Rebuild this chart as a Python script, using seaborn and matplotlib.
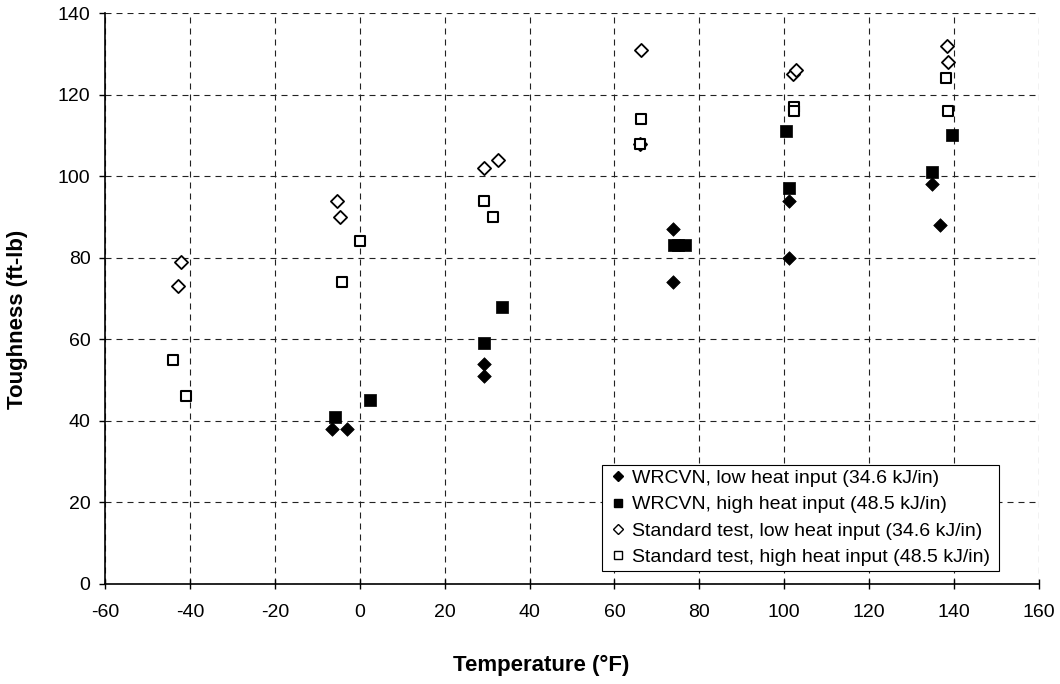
import matplotlib
matplotlib.use("Agg")
import matplotlib.pyplot as plt
import seaborn as sns
import pandas as pd

# ---- data ----
wr_low_x = [-6.6, -3, 29.3, 29.3, 73.9, 73.9, 101, 101, 134.9, 136.7]
wr_low_y = [38, 38, 54, 51, 87, 74, 94, 80, 98, 88]

wr_high_x = [-5.8, 2.4, 29.3, 33.6, 74, 75, 76.5, 100.5, 101, 134.9, 139.6]
wr_high_y = [41, 45, 59, 68, 83, 83, 83, 111, 97, 101, 110]

std_low_x = [-42, -42.9, -5.3, -4.6, 29.2, 32.6, 66.2, 66.1, 102, 102.7, 138.4, 138.5]
std_low_y = [79, 73, 94, 90, 102, 104, 131, 108, 125, 126, 132, 128]

std_high_x = [-44, -40.9, -4.1, 0, 29.3, 31.5, 66.3, 66.1, 102.3, 102.3, 138.1, 138.5]
std_high_y = [55, 46, 74, 84, 94, 90, 114, 108, 117, 116, 124, 116]

labels = [
    "WRCVN, low heat input (34.6 kJ/in)",
    "WRCVN, high heat input (48.5 kJ/in)",
    "Standard test, low heat input (34.6 kJ/in)",
    "Standard test, high heat input (48.5 kJ/in)",
]
x_ticks = [-60, -40, -20, 0, 20, 40, 60, 80, 100, 120, 140, 160]
y_ticks = [0, 20, 40, 60, 80, 100, 120, 140]

sns.set_theme(style="white")
plt.rcParams['font.family'] = ['Liberation Sans', 'DejaVu Sans']
plt.rcParams['text.color'] = 'black'
plt.rcParams['axes.labelcolor'] = 'black'
plt.rcParams['xtick.color'] = 'black'
plt.rcParams['ytick.color'] = 'black'

fig = plt.figure(figsize=(10.6, 6.84), dpi=100)
ax = fig.add_axes([105 / 1060, 1 - 584 / 684, (1039 - 105) / 1060, (584 - 13) / 684])

series = [
    (std_low_x, std_low_y, labels[2], "D", "white", 45, 1.3),
    (std_high_x, std_high_y, labels[3], "s", "white", 52, 1.5),
    (wr_high_x, wr_high_y, labels[1], "s", "black", 76, 0.5),
    (wr_low_x, wr_low_y, labels[0], "D", "black", 48, 0.5),
]
handles = {}
for xs, ys, lab, mk, fc, s, lw in series:
    df = pd.DataFrame({"x": xs, "y": ys})
    sns.scatterplot(data=df, x="x", y="y", ax=ax, marker=mk, s=s,
                    facecolor=fc, edgecolor="black", linewidth=lw,
                    label=lab, zorder=3, legend=False)
    handles[lab] = plt.Line2D([], [], linestyle="none", marker=mk,
                              markersize=6.0 if mk == "s" else 4.6,
                              markerfacecolor=fc, markeredgecolor="black",
                              markeredgewidth=1.0)

ax.set_xlim(-60, 160)
ax.set_ylim(0, 140)
ax.set_xticks(x_ticks)
ax.set_yticks(y_ticks)
ax.set_xticklabels([str(t) for t in x_ticks])
ax.set_yticklabels([str(t) for t in y_ticks])

ax.grid(True, color="#222222", linestyle=(0, (5.4, 4.5)), linewidth=0.8)
ax.set_axisbelow(True)
for sp in ["top", "right"]:
    ax.spines[sp].set_visible(False)
for sp in ["left", "bottom"]:
    ax.spines[sp].set_color("black")
    ax.spines[sp].set_linewidth(1.2)
    ax.spines[sp].set_zorder(4)

ax.tick_params(axis="x", direction="inout", length=7, width=1.0, color="black",
               labelcolor="black", labelsize=14, pad=11, bottom=True)
ax.tick_params(axis="y", direction="out", length=4.5, width=1.0, color="black",
               labelcolor="black", labelsize=14, pad=6, left=True)

ax.set_xlabel("Temperature (°F)", fontsize=16, fontweight="bold", color="black")
ax.set_ylabel("Toughness (ft-lb)", fontsize=16, fontweight="bold", color="black")
ax.xaxis.label.set_va("center")
ax.yaxis.label.set_va("center")
ax.xaxis.set_label_coords(0.4668, -0.1419)
ax.yaxis.set_label_coords(-0.0937, 0.464)

leg = ax.legend([handles[l] for l in labels], labels, loc="lower left",
                bbox_to_anchor=((602 - 105) / 934, (584 - 571) / 571,
                                (999 - 602) / 934, (571 - 447) / 571),
                mode="expand", fontsize=14, frameon=True, fancybox=False,
                handlelength=1.1, handletextpad=0.2, borderpad=0.25,
                labelspacing=0.45, borderaxespad=0)
leg.get_frame().set_edgecolor("black")
leg.get_frame().set_linewidth(0.8)
leg.get_frame().set_alpha(1)
leg.set_zorder(5)
for t in leg.get_texts():
    t.set_color("black")

fig.savefig("out.png", dpi=100)
